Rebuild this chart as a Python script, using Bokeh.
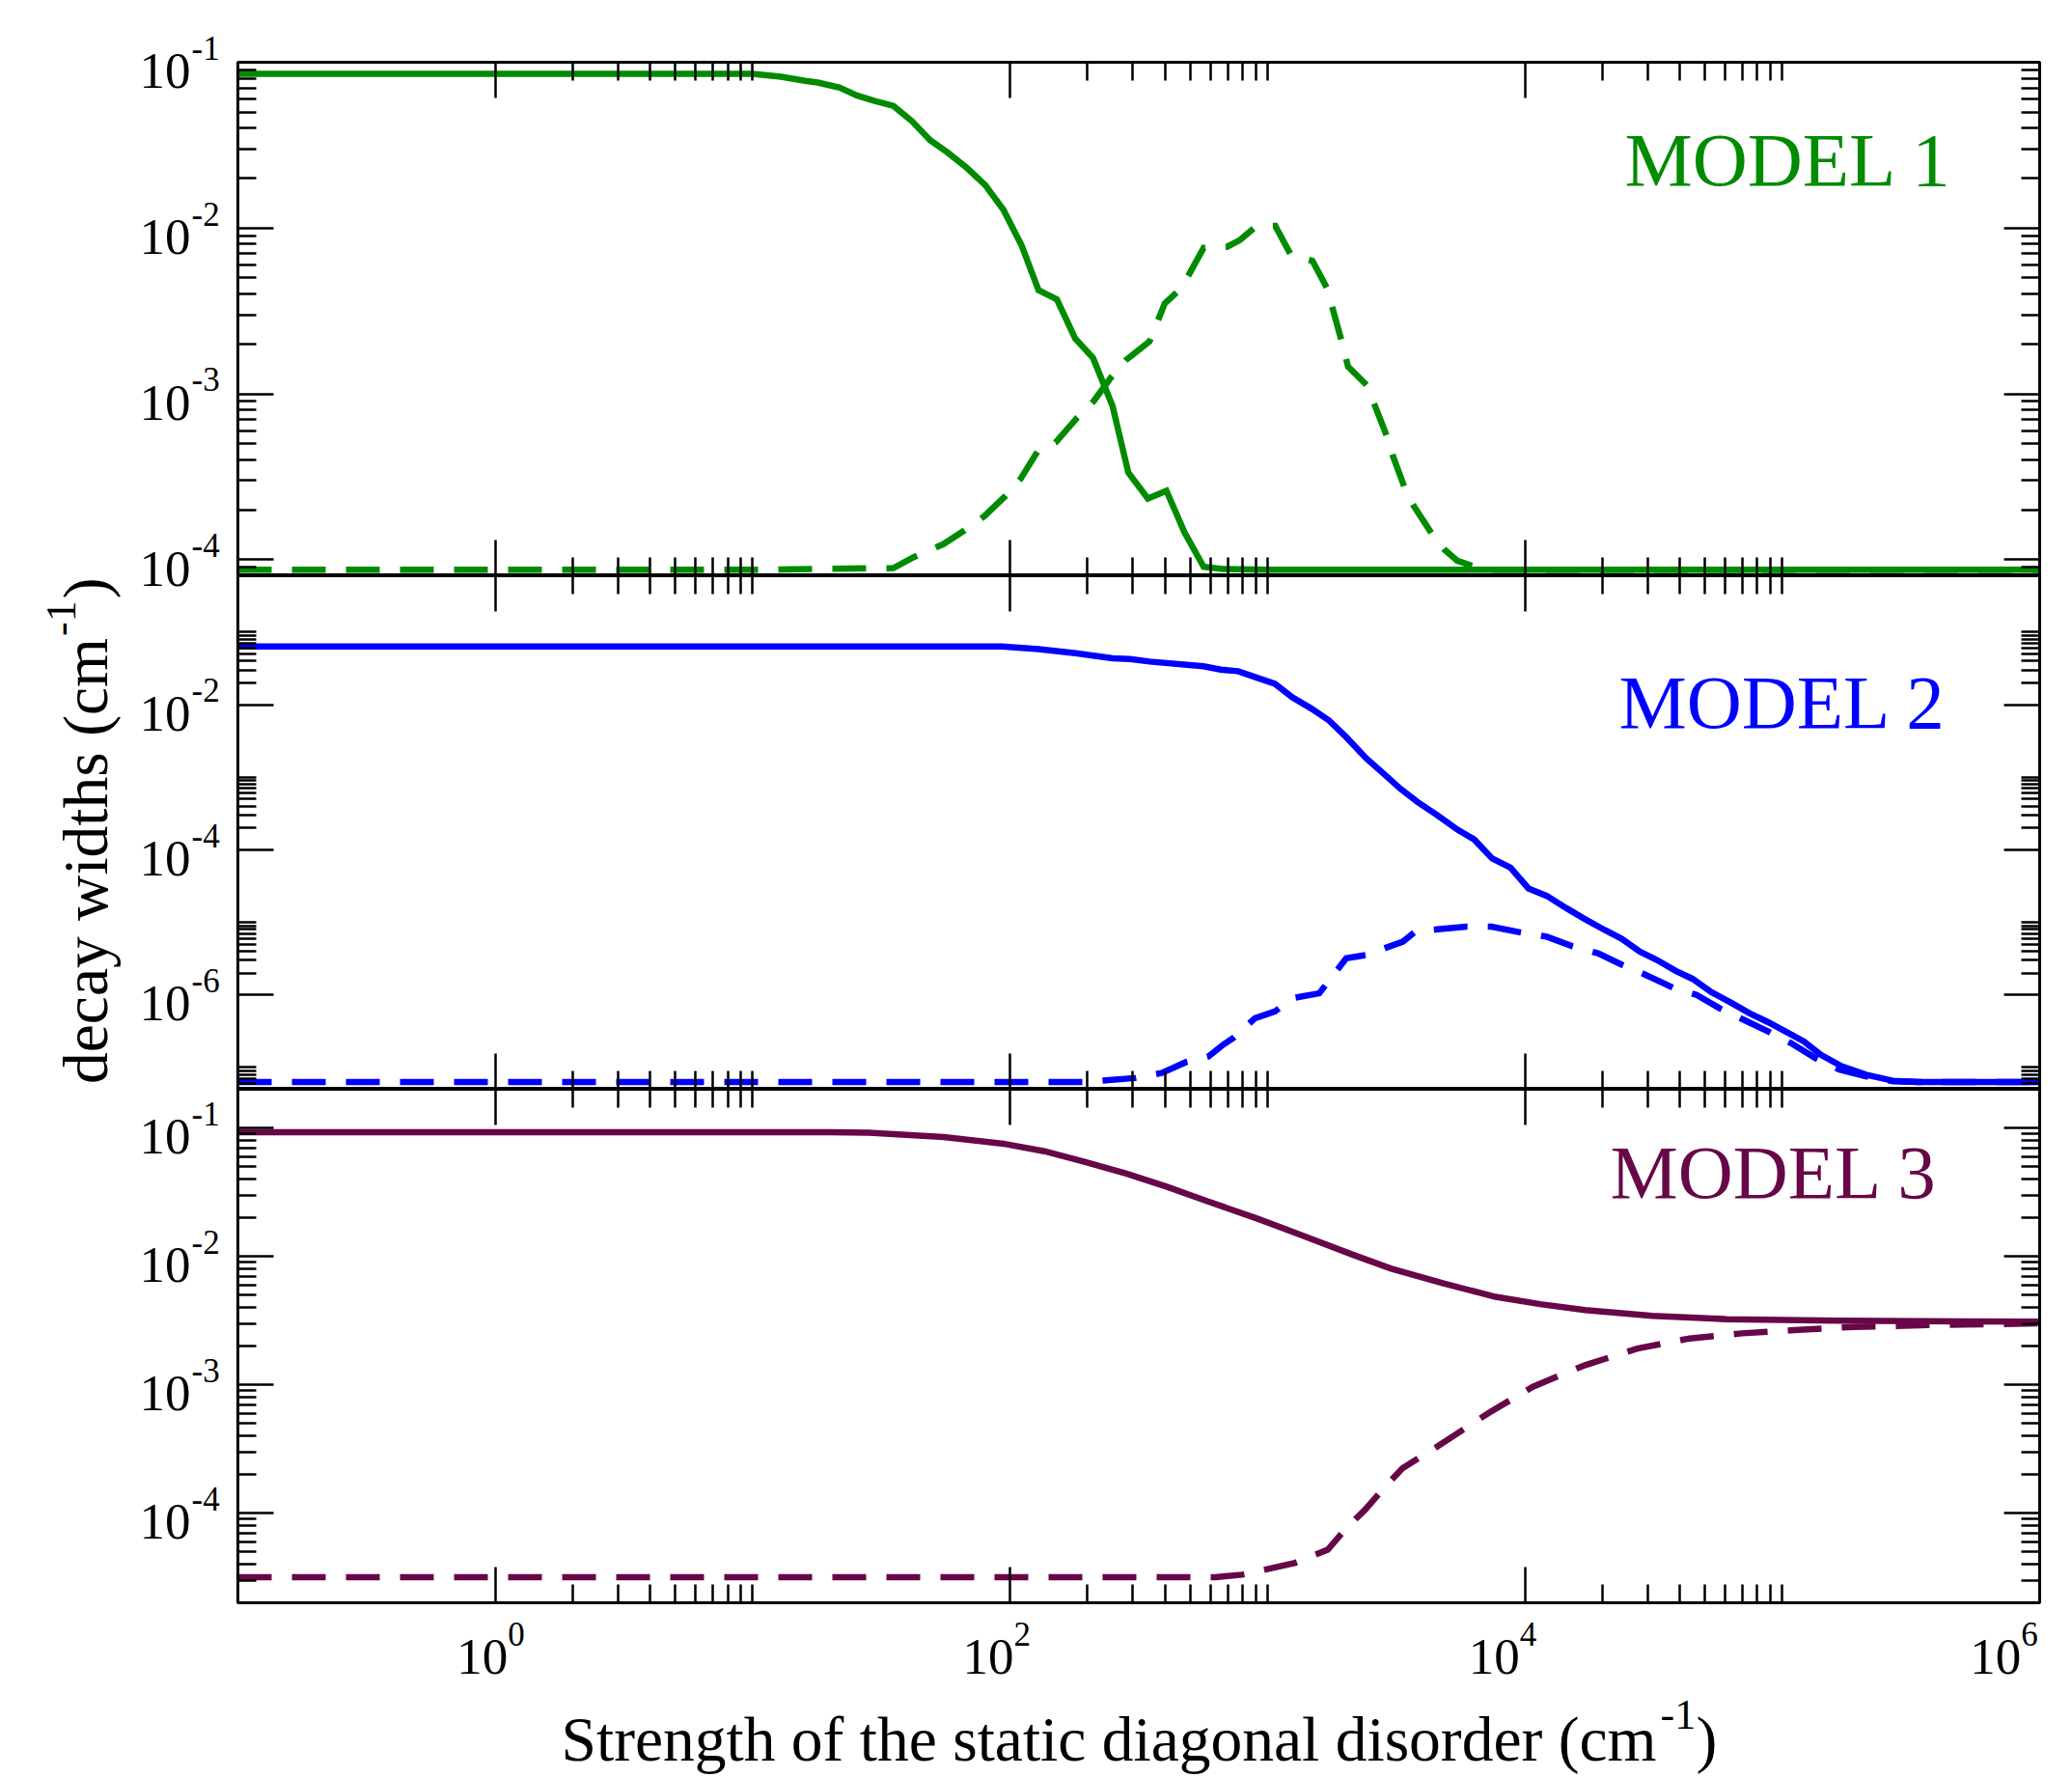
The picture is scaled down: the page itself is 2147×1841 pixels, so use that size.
import math
from bokeh.plotting import figure
from bokeh.models import LogAxis, FixedTicker, Label, Range1d, CustomJSTickFormatter
from bokeh.layouts import column, row
from bokeh.embed import file_html
from bokeh.resources import INLINE

FONT = "Liberation Serif"
GREEN, BLUE, MAROON = "#008b00", "#0000ff", "#670748"

# ---------------- data ----------------
X_RANGE = (0.1, 1e6)
X_MAJOR = [1, 1e2, 1e4, 1e6]
X_MINOR = [k * 10.0 ** e for e in (0, 2, 4) for k in range(2, 11)]

P1_RANGE = (8e-5, 0.1)
P1_MAJOR = [1e-4, 1e-3, 1e-2, 1e-1]
P1_MINOR = [k * 10.0 ** e for e in range(-5, -1) for k in range(2, 10)]
P2_RANGE = (5e-8, 0.6)
P2_MAJOR = [1e-6, 1e-4, 1e-2]
P2_MINOR = [k * 10.0 ** e for e in (-8, -6, -4, -2) for k in range(2, 11)]
P3_RANGE = (2e-5, 0.2)
P3_MAJOR = [1e-4, 1e-3, 1e-2, 1e-1]
P3_MINOR = [k * 10.0 ** e for e in range(-5, -1) for k in range(2, 10)]

M1_SOLID_X = [0.1, 1, 10, 12.9, 16.0, 17.9, 21.8, 25.4, 29.6, 35.2, 41.6, 48.9, 57.1, 67.8, 80.0, 94.2,
              111, 129, 152, 179, 210, 250, 288, 343, 405, 476, 565, 671, 1e3, 1e4, 1e5, 1e6]
M1_SOLID_Y = [0.085, 0.085, 0.085, 0.0818, 0.0773, 0.0755, 0.0703, 0.0630, 0.0586, 0.0546, 0.0441, 0.0339,
              0.0286, 0.0231, 0.0182, 0.0129, 0.00782, 0.00422, 0.00372, 0.00216, 0.00165, 0.000847,
              0.000335, 0.000234, 0.000260, 0.000146, 9.06e-5, 8.8e-5, 8.7e-5, 8.7e-5, 8.7e-5, 8.7e-5]
M1_DASH_X = [0.1, 1, 10, 35.2, 41.9, 55.0, 66.5, 79.1, 95.9, 110, 128, 150, 181, 211, 247, 282, 348, 399,
             448, 492, 565, 697, 783, 908, 1072, 1233, 1496, 1702, 1941, 2056, 2443, 2624, 2904, 3076,
             3404, 3707, 4345, 4875, 5458, 6223, 7080, 1e5, 1e6]
M1_DASH_Y = [8.7e-5, 8.7e-5, 8.7e-5, 8.9e-5, 1.03e-4, 1.24e-4, 1.50e-4, 1.82e-4, 2.42e-4, 3.08e-4, 4.51e-4,
             5.08e-4, 7.10e-4, 9.02e-4, 1.26e-3, 1.60e-3, 2.07e-3, 3.51e-3, 4.15e-3, 5.14e-3, 7.60e-3,
             7.71e-3, 8.49e-3, 1.03e-2, 1.03e-2, 6.89e-3, 6.34e-3, 4.35e-3, 2.08e-3, 1.46e-3, 1.12e-3,
             8.36e-4, 5.60e-4, 4.19e-4, 2.74e-4, 2.10e-4, 1.44e-4, 1.15e-4, 9.86e-5, 9.20e-5, 8.7e-5,
             8.7e-5, 8.7e-5]

M2_SOLID_X = [0.1, 1, 10, 93, 129, 180, 250, 292, 348, 564, 658, 769, 916, 1069, 1247, 1486, 1734, 2023,
              2415, 2877, 3281, 3828, 4571, 5458, 6353, 7464, 8790, 10330, 12160, 14450, 17020, 20420,
              23770, 27990, 32580, 38550, 44870, 53090, 62810, 74470, 88100, 104200, 121300, 141300,
              169800, 211300, 267900, 339600, 1e6]
M2_SOLID_Y = [0.0634, 0.0634, 0.0634, 0.0634, 0.0586, 0.0513, 0.0437, 0.0428, 0.0394, 0.0339, 0.0305,
              0.0290, 0.0234, 0.0194, 0.0127, 8.79e-3, 6.07e-3, 3.58e-3, 1.84e-3, 1.06e-3, 6.97e-4,
              4.56e-4, 3.00e-4, 1.91e-4, 1.39e-4, 7.59e-5, 5.69e-5, 2.93e-5, 2.32e-5, 1.58e-5, 1.12e-5,
              7.85e-6, 5.93e-6, 3.94e-6, 3.03e-6, 2.14e-6, 1.66e-6, 1.09e-6, 7.92e-7, 5.60e-7, 4.21e-7,
              3.07e-7, 2.28e-7, 1.49e-7, 1.04e-7, 7.94e-8, 6.56e-8, 6.30e-8, 6.30e-8]
M2_DASH_X = [0.1, 1, 10, 196, 305, 388, 484, 590, 673, 736, 895, 1069, 1247, 1589, 2023, 2415, 3357, 3750,
             4571, 5943, 7413, 9661, 12160, 15310, 19230, 23930, 29440, 37930, 46450, 56890, 70790,
             88100, 107900, 134300, 167100, 211300, 269000, 339600, 1e6]
M2_DASH_Y = [6.3e-8, 6.3e-8, 6.3e-8, 6.3e-8, 7.14e-8, 8.38e-8, 1.19e-7, 1.42e-7, 2.06e-7, 2.54e-7, 4.78e-7,
             5.90e-7, 9.02e-7, 1.05e-6, 3.20e-6, 3.55e-6, 5.42e-6, 7.43e-6, 8.02e-6, 8.71e-6, 8.71e-6,
             7.24e-6, 6.35e-6, 4.68e-6, 3.75e-6, 2.59e-6, 1.89e-6, 1.24e-6, 1.0e-6, 6.58e-7, 4.54e-7,
             3.13e-7, 2.17e-7, 1.35e-7, 9.29e-8, 7.55e-8, 6.46e-8, 6.3e-8, 6.3e-8]

M3_SOLID_X = [0.1, 1, 10, 20, 28.3, 55.2, 94.2, 136, 196, 283, 408, 570, 910, 1358, 2168, 3027, 4831,
              7691, 11480, 17140, 31260, 60950, 166000, 1e6]
M3_SOLID_Y = [0.0925, 0.0925, 0.0925, 0.0925, 0.0916, 0.0849, 0.0753, 0.0658, 0.0542, 0.0441, 0.0347,
              0.0273, 0.0197, 0.0146, 0.0102, 8.02e-3, 6.14e-3, 4.83e-3, 4.24e-3, 3.81e-3, 3.44e-3,
              3.24e-3, 3.15e-3, 3.09e-3]
M3_DASH_X = [0.1, 1, 10, 100, 631, 798, 1271, 1714, 2028, 2393, 2831, 3342, 4667, 7194, 10740, 17140,
             27350, 43650, 69660, 111200, 189700, 369800, 1e6]
M3_DASH_Y = [3.17e-5, 3.17e-5, 3.17e-5, 3.17e-5, 3.17e-5, 3.31e-5, 4.07e-5, 5.18e-5, 7.64e-5, 1.06e-4,
             1.56e-4, 2.23e-4, 3.39e-4, 5.98e-4, 9.64e-4, 1.42e-3, 1.91e-3, 2.29e-3, 2.51e-3, 2.66e-3,
             2.82e-3, 2.91e-3, 3.00e-3]

MODEL_NAMES = ["MODEL 1", "MODEL 2", "MODEL 3"]
MODEL_COLORS = [GREEN, BLUE, MAROON]
Y_RANGES = [P1_RANGE, P2_RANGE, P3_RANGE]
Y_MAJORS = [P1_MAJOR, P2_MAJOR, P3_MAJOR]
Y_MINORS = [P1_MINOR, P2_MINOR, P3_MINOR]
SOLIDS = [(M1_SOLID_X, M1_SOLID_Y), (M2_SOLID_X, M2_SOLID_Y), (M3_SOLID_X, M3_SOLID_Y)]
DASHES = [(M1_DASH_X, M1_DASH_Y), (M2_DASH_X, M2_DASH_Y), (M3_DASH_X, M3_DASH_Y)]
X_TITLE = "Strength of the static diagonal disorder (cm"
Y_TITLE = "decay widths (cm"
UNIT_EXP = "-1"

# ---------------- layout constants (pixels) ----------------
H = 1840
TITLE_W, TICK_W = 130, 112
FIG_ML, FIG_MR = 4, 33
FW, FH = 1867, 532
TOP_B = 64
BOT_GAP, BOT_H = 3, 177
FRAME_L = TITLE_W + TICK_W + FIG_ML          # 246
FRAME_R = FRAME_L + FW                        # 2113
PAGE_R = TITLE_W + TICK_W + FIG_ML + FW + FIG_MR
PANEL_TOPS = [TOP_B + i * FH for i in range(3)]
STRIPS = [(0, 650), (650, 1100), (1100, H)]
TICK_FS, SUP_FS = 53, 35
TITLE_FS, TITLE_SUP_FS = 65.5, 44
MODEL_FS = 79
MODEL_DX = [-430, -436, -445]
MODEL_DY = [-129.6, -160, -115]
BASE_FIX = 0.365   # bokeh places the alphabetic baseline this many em low
LW = 6.5


def put(fig, x, y, text, size, dx=0.0, dy=0.0, align="left", color="black", angle=0.0):
    fix = BASE_FIX * size
    if angle:
        dx -= fix
    else:
        dy += fix
    fig.add_layout(Label(x=x, y=y, x_offset=dx, y_offset=dy, text=text, angle=angle,
                         text_align=align, text_baseline="alphabetic", text_font=FONT,
                         text_font_size=f"{size}px", text_color=color))


def style_axis(ax):
    ax.major_tick_in = 37
    ax.major_tick_out = 0
    ax.minor_tick_in = 19
    ax.minor_tick_out = 0
    ax.major_tick_line_width = 2.5
    ax.minor_tick_line_width = 2.5
    ax.major_tick_line_color = "black"
    ax.minor_tick_line_color = "black"
    ax.axis_line_width = 3
    ax.axis_line_color = "black"
    ax.formatter = CustomJSTickFormatter(code="return ''")
    ax.major_label_standoff = 0
    ax.major_label_text_font_size = "0px"
    ax.axis_label = None


def within(vals, rng):
    lo, hi = rng
    return [v for v in vals if lo * 0.999999 <= v <= hi * 1.000001]


def exp_of(v):
    return str(int(round(math.log10(v))))


def blank(width, height, **kw):
    f = figure(width=width, height=height, min_border=0, x_axis_location=None, y_axis_location=None,
               output_backend="svg", toolbar_location=None, **kw)
    f.grid.visible = False
    f.outline_line_color = None
    return f


# ---------------- the three panels ----------------
panels = []
for i in range(3):
    yr = Y_RANGES[i]
    p = figure(x_axis_type="log", y_axis_type="log",
               x_range=Range1d(*X_RANGE), y_range=Range1d(*yr),
               frame_width=FW, frame_height=FH,
               min_border_left=FIG_ML, min_border_right=FIG_MR,
               min_border_top=TOP_B if i == 0 else 0,
               min_border_bottom=BOT_GAP if i == 2 else 0,
               output_backend="svg", toolbar_location=None)
    p.grid.visible = False
    p.outline_line_color = "black"
    p.outline_line_width = 3
    xt = FixedTicker(ticks=within(X_MAJOR, X_RANGE), minor_ticks=within(X_MINOR, X_RANGE))
    yt = FixedTicker(ticks=within(Y_MAJORS[i], yr), minor_ticks=within(Y_MINORS[i], yr))
    p.xaxis.ticker = xt
    p.yaxis.ticker = yt
    p.add_layout(LogAxis(ticker=xt), "above")
    p.add_layout(LogAxis(ticker=yt), "right")
    for ax in list(p.below) + list(p.above) + list(p.left) + list(p.right):
        style_axis(ax)
    color = MODEL_COLORS[i]
    p.line(SOLIDS[i][0], SOLIDS[i][1], line_color=color, line_width=LW, line_join="miter")
    p.line(DASHES[i][0], DASHES[i][1], line_color=color, line_width=LW, line_dash="35 21",
           line_join="miter")
    put(p, X_RANGE[1], yr[1], MODEL_NAMES[i], MODEL_FS, dx=MODEL_DX[i], dy=MODEL_DY[i], color=color)
    panels.append(p)

# ---------------- bottom strip: x tick labels and x title ----------------
DPX = math.log10(X_RANGE[1] / X_RANGE[0]) / FW
BOT_W = FIG_ML + FW + FIG_MR
x_end_ext = 10 ** (math.log10(X_RANGE[1]) + (PAGE_R - FRAME_R) * DPX)
bot = figure(width=BOT_W, height=BOT_H, x_axis_type="log", x_range=Range1d(X_RANGE[0], x_end_ext),
             y_range=Range1d(0, BOT_H), min_border_left=FIG_ML, min_border_right=0,
             min_border_top=0, min_border_bottom=0, x_axis_location=None, y_axis_location=None,
             output_backend="svg", toolbar_location=None)
bot.grid.visible = False
bot.outline_line_color = None


def by(page_y):
    return H - page_y


frame_bottom = PANEL_TOPS[2] + FH
for t in within(X_MAJOR, X_RANGE):
    shift = -4.5 if t == X_MAJOR[-1] else 0.0
    put(bot, t, by(frame_bottom + 75.6), "10", TICK_FS, dx=17.75 + shift, align="right")
    put(bot, t, by(frame_bottom + 45), exp_of(t), SUP_FS, dx=17.75 + shift)
put(bot, X_RANGE[0], by(1825), X_TITLE, TITLE_FS, dx=581 - FRAME_L)
put(bot, X_RANGE[0], by(1792), UNIT_EXP, TITLE_SUP_FS, dx=1720 - FRAME_L)
put(bot, X_RANGE[0], by(1825), ")", TITLE_FS, dx=1757 - FRAME_L)

# ---------------- left strips: y tick labels ----------------
strips = []
for i, (a, b) in enumerate(STRIPS):
    lo, hi = Y_RANGES[i]
    dpp = math.log10(hi / lo) / FH
    top = PANEL_TOPS[i]
    hi_ext = 10 ** (math.log10(hi) + (top - a) * dpp)
    lo_ext = 10 ** (math.log10(lo) - (b - (top + FH)) * dpp)
    s = figure(width=TICK_W, height=b - a, y_axis_type="log",
               x_range=Range1d(0, TICK_W), y_range=Range1d(lo_ext, hi_ext),
               min_border=0, x_axis_location=None, y_axis_location=None,
               output_backend="svg", toolbar_location=None)
    s.grid.visible = False
    s.outline_line_color = None
    ax_x = FRAME_L - TITLE_W
    for t in within(Y_MAJORS[i], Y_RANGES[i]):
        put(s, ax_x, t, "10", TICK_FS, dx=-49, dy=-28.5, align="right")
        put(s, ax_x, t, exp_of(t), SUP_FS, dx=-48, dy=2)
    strips.append(s)

# ---------------- y title strip ----------------
yt_fig = blank(TITLE_W, H, x_range=Range1d(0, TITLE_W), y_range=Range1d(0, H))
put(yt_fig, 112, H - 1122.5, Y_TITLE, TITLE_FS, angle=math.pi / 2)
put(yt_fig, 79, H - 658.5, UNIT_EXP, TITLE_SUP_FS, angle=math.pi / 2)
put(yt_fig, 112, H - 619.8, ")", TITLE_FS, angle=math.pi / 2)

layout = row(yt_fig, column(*strips, spacing=0), column(*panels, bot, spacing=0), spacing=0)

with open("out.html", "w") as f:
    f.write(file_html(layout, INLINE))
